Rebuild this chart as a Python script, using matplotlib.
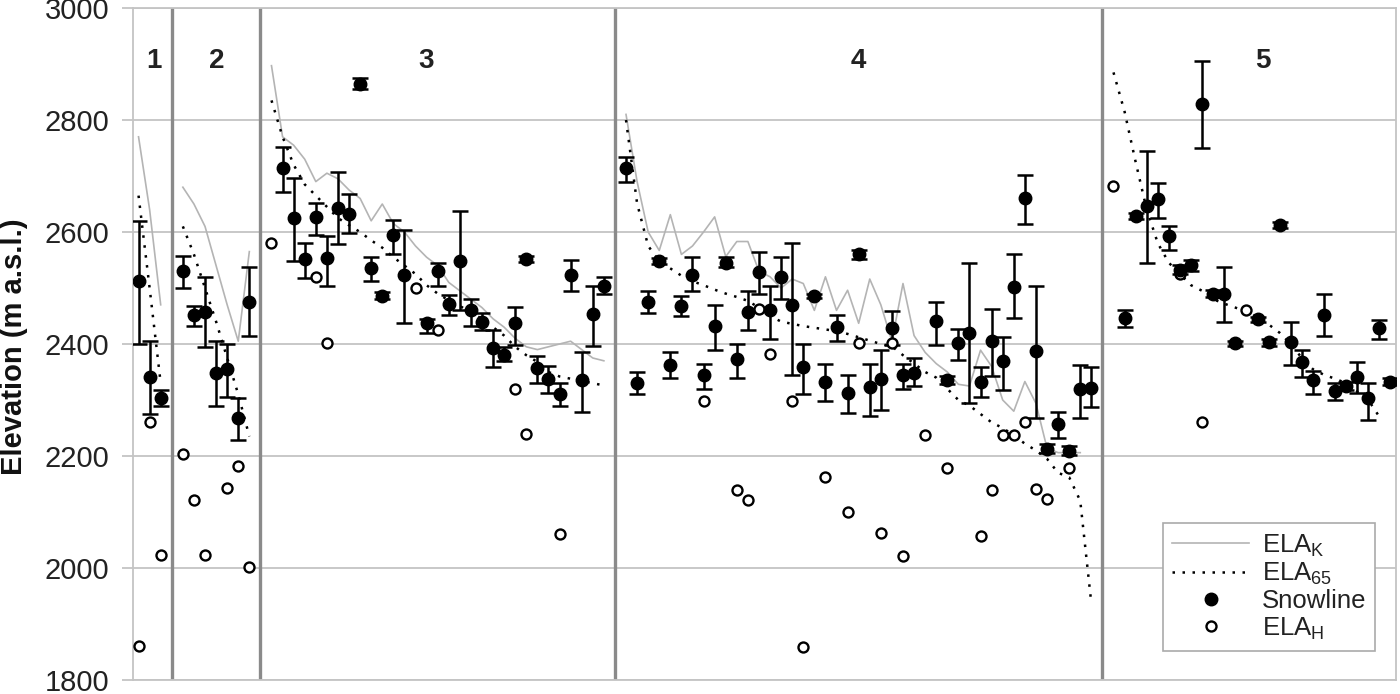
import numpy as np
import matplotlib
matplotlib.use("Agg")
import matplotlib.pyplot as plt

plt.rcParams["font.family"] = ["Liberation Sans", "DejaVu Sans"]

# glacier index along the x axis (categories 1..114), regions split at 4, 12, 44, 88
REGION_SPLITS = [4, 12, 44, 88]
REGION_LABELS = ["1", "2", "3", "4", "5"]
REGION_LABEL_X = [2.4, 8.1, 27, 66, 102.5]

# snowline elevation with min / max range
snow_cat = [1, 2, 3,
            5, 6, 7, 8, 9, 10, 11,
            14, 15, 16, 17, 18, 19, 20, 21, 22, 23, 24, 25, 27, 28, 29, 30, 31, 32, 33,
            34, 35, 36, 37, 38, 39, 40, 41, 42, 43,
            45, 46, 47, 48, 49, 50, 51, 52, 53, 54, 55, 56, 57, 58, 59, 60, 61, 62, 63,
            64, 65, 66, 67, 68, 69, 70, 71, 73, 74, 75, 76, 77, 78, 79, 80, 81, 82, 83,
            84, 85, 86, 87,
            90, 91, 92, 93, 94, 95, 96, 97, 98, 99, 100, 102, 103, 104, 105, 106, 107,
            108, 109, 110, 111, 112, 113, 114]
snow_val = [2513, 2341, 2303,
            2530, 2451, 2458, 2349, 2355, 2267, 2475,
            2714, 2625, 2552, 2627, 2553, 2643, 2633, 2865, 2536, 2486, 2595, 2524, 2437,
            2530, 2472, 2549, 2460, 2440, 2393, 2381, 2437, 2552, 2357, 2337, 2311, 2524,
            2335, 2453, 2504,
            2714, 2330, 2475, 2548, 2363, 2468, 2524, 2345, 2433, 2545, 2373, 2458, 2529,
            2460, 2520, 2470, 2359, 2486, 2333, 2430, 2313, 2560, 2323, 2337, 2429, 2345,
            2348, 2441, 2335, 2401, 2419, 2333, 2405, 2370, 2502, 2660, 2387, 2213, 2257,
            2209, 2319, 2321,
            2446, 2629, 2647, 2659, 2593, 2533, 2541, 2829, 2490, 2490, 2401, 2444, 2403,
            2613, 2403, 2368, 2335, 2452, 2316, 2325, 2341, 2303, 2429, 2333]
snow_lo = [2400, 2275, 2290,
           2500, 2432, 2395, 2290, 2305, 2228, 2415,
           2672, 2548, 2517, 2595, 2504, 2579, 2599, 2855, 2513, 2480, 2561, 2438, 2420,
           2504, 2452, 2460, 2433, 2425, 2359, 2370, 2398, 2547, 2330, 2313, 2290, 2495,
           2279, 2397, 2490,
           2689, 2310, 2455, 2543, 2340, 2450, 2495, 2320, 2390, 2537, 2340, 2425, 2490,
           2409, 2480, 2345, 2311, 2482, 2298, 2406, 2276, 2552, 2271, 2282, 2398, 2319,
           2325, 2398, 2328, 2371, 2294, 2305, 2343, 2317, 2446, 2615, 2268, 2205, 2232,
           2201, 2267, 2288,
           2430, 2624, 2544, 2625, 2567, 2525, 2530, 2750, 2484, 2440, 2396, 2439, 2397,
           2608, 2363, 2341, 2311, 2414, 2300, 2317, 2313, 2265, 2409, 2327]
snow_hi = [2620, 2405, 2318,
           2557, 2468, 2520, 2405, 2400, 2303, 2537,
           2752, 2697, 2581, 2652, 2593, 2708, 2667, 2875, 2556, 2492, 2621, 2603, 2445,
           2544, 2488, 2637, 2480, 2455, 2425, 2395, 2466, 2557, 2379, 2360, 2330, 2550,
           2385, 2504, 2520,
           2734, 2350, 2495, 2553, 2385, 2485, 2555, 2365, 2470, 2555, 2400, 2495, 2565,
           2504, 2556, 2581, 2400, 2490, 2365, 2452, 2345, 2568, 2365, 2389, 2459, 2365,
           2375, 2475, 2342, 2427, 2544, 2359, 2463, 2413, 2560, 2702, 2504, 2221, 2278,
           2217, 2363, 2359,
           2460, 2634, 2744, 2687, 2610, 2541, 2550, 2906, 2496, 2538, 2406, 2449, 2409,
           2618, 2439, 2389, 2351, 2490, 2330, 2333, 2367, 2330, 2443, 2339]

# ELA_H
elah_cat = [1, 2, 3, 5, 6, 7, 9, 10, 11,
            13, 17, 18, 26, 28, 35, 36, 39,
            52, 55, 56, 57, 58, 60, 61, 63, 65, 66, 68, 69, 70, 71, 72, 74, 77, 78, 79,
            80, 81, 82, 83, 85,
            89, 95, 97, 101]
elah_val = [1860, 2260, 2024, 2203, 2122, 2024, 2143, 2183, 2002,
            2581, 2520, 2401, 2500, 2425, 2319, 2240, 2060,
            2298, 2140, 2121, 2462, 2383, 2298, 1859, 2163, 2100, 2401, 2062, 2401, 2022,
            2349, 2238, 2179, 2058, 2140, 2238, 2238, 2260, 2141, 2124, 2179,
            2683, 2525, 2260, 2460]

# ELA_K, one run per region (first category of each run)
elak_start = [1, 5, 13, 45]
elak_1 = [2770, 2640, 2470]
elak_2 = [2680, 2650, 2610, 2540, 2470, 2405, 2565]
elak_3 = [2897, 2770, 2755, 2730, 2690, 2705, 2695, 2675, 2660, 2620, 2650, 2615,
          2600, 2575, 2555, 2540, 2510, 2495, 2480, 2465, 2445, 2430, 2410, 2395,
          2390, 2395, 2400, 2405, 2390, 2375, 2370]
elak_4 = [2810, 2690, 2600, 2567, 2631, 2560, 2575, 2600, 2627, 2556, 2583, 2583,
          2530, 2520, 2500, 2516, 2508, 2460, 2520, 2460, 2496, 2437, 2516, 2470,
          2405, 2508, 2415, 2385, 2365, 2350, 2328, 2325, 2389, 2360, 2300, 2280,
          2333, 2294, 2214, 2206, 2206, 2206]

# ELA_65
ela65_start = [1, 5, 13, 45, 89]
ela65_1 = [2665, 2500, 2330]
ela65_2 = [2610, 2560, 2500, 2440, 2375, 2310, 2235]
ela65_3 = [2835, 2770, 2720, 2685, 2665, 2645, 2625, 2612, 2600, 2585, 2572, 2555,
           2540, 2525, 2505, 2490, 2478, 2468, 2456, 2445, 2430, 2415, 2395, 2380,
           2368, 2350, 2342, 2338, 2334, 2330, 2326]
ela65_4 = [2800, 2651, 2575, 2548, 2535, 2522, 2512, 2505, 2497, 2490, 2484, 2477,
           2465, 2450, 2440, 2436, 2432, 2429, 2426, 2423, 2418, 2412, 2406, 2400,
           2396, 2380, 2365, 2350, 2340, 2320, 2300, 2290, 2275, 2260, 2250, 2237,
           2222, 2210, 2195, 2170, 2162, 2120, 1937]
ela65_5 = [2885, 2815, 2725, 2640, 2580, 2545, 2525, 2505, 2495, 2480, 2472, 2465,
           2458, 2448, 2435, 2420, 2400, 2375, 2355, 2345, 2338, 2330, 2315, 2300, 2270]

GRID = "#c4c4c4"

fig = plt.figure(figsize=(14, 6.94), dpi=100)
ax = fig.add_axes([133 / 1400, 14 / 694, 1263 / 1400, 672 / 694])

ax.set_xlim(0.5, 114.5)
ax.set_ylim(1800, 3000)
ax.set_yticks(range(1800, 3001, 200))
ax.set_xticks([])
ax.yaxis.grid(True, color=GRID, lw=1.3, zorder=0)
ax.set_axisbelow(True)
for s in ax.spines.values():
    s.set_color(GRID)
    s.set_linewidth(1.3)
ax.tick_params(axis="y", length=8, width=1.3, color=GRID, labelsize=21,
               pad=9, labelcolor="#222222")

for x in REGION_SPLITS:
    ax.axvline(x, color="#8a8a8a", lw=2.4, zorder=1)

first = True
for start, vals in zip(elak_start, [elak_1, elak_2, elak_3, elak_4]):
    xs = np.arange(start, start + len(vals))
    ax.plot(xs, vals, color="#b4b4b4", lw=1.2, zorder=2,
            label=r"ELA$_{\mathregular{K}}$" if first else None)
    first = False

first = True
for start, vals in zip(ela65_start, [ela65_1, ela65_2, ela65_3, ela65_4, ela65_5]):
    xs = np.arange(start, start + len(vals))
    ax.plot(xs, vals, color="black", lw=1.8, ls=(0, (1, 3)), zorder=3,
            label=r"ELA$_{\mathregular{65}}$" if first else None)
    first = False

snow_val = np.array(snow_val)
yerr = [snow_val - np.array(snow_lo), np.array(snow_hi) - snow_val]
ax.errorbar(snow_cat, snow_val, yerr=yerr, fmt="none", ecolor="black",
            elinewidth=1.8, capsize=5.5, capthick=1.8, zorder=4)
ax.plot(snow_cat, snow_val, "o", color="black", ms=9, zorder=5, label="Snowline")
ax.plot(elah_cat, elah_val, "o", mfc="white", mec="black", ms=7.2, mew=1.7,
        zorder=4, label=r"ELA$_{\mathregular{H}}$")

for lab, x in zip(REGION_LABELS, REGION_LABEL_X):
    ax.text(x, 2905, lab, ha="center", va="center", fontsize=20,
            fontweight="bold", color="#222222")

fig.text(14 / 1400, 0.5, "Elevation (m a.s.l.)", rotation=90, ha="center",
         va="center", fontsize=21, fontweight="bold", color="#111111")

leg = ax.legend(loc="upper left", bbox_to_anchor=(0.8155, 0.2336), borderaxespad=0,
                fontsize=18.5, handlelength=3.0, labelspacing=0.08, handletextpad=0.5,
                borderpad=0.35, fancybox=False, framealpha=1, edgecolor="#aaaaaa")
leg.get_frame().set_linewidth(1.2)
for t in leg.get_texts():
    t.set_color("#222222")

fig.savefig("out.png", dpi=100)
